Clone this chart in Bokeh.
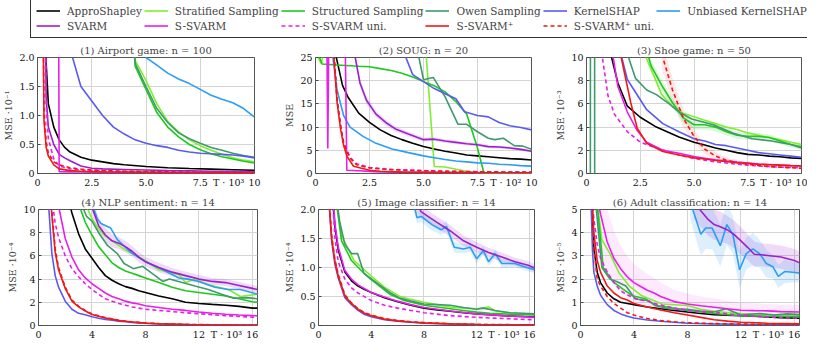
import numpy as np
from bokeh.plotting import figure
from bokeh.layouts import column, row
from bokeh.models import FixedTicker, Legend, LegendItem, Range1d
from bokeh.embed import file_html
from bokeh.resources import INLINE

# ---------------- methods / styles ----------------
METHODS = ["ApproShapley", "Stratified Sampling", "Structured Sampling", "Owen Sampling",
           "KernelSHAP", "Unbiased KernelSHAP", "SVARM", "S-SVARM", "S-SVARM uni.",
           "S-SVARM\u207a", "S-SVARM\u207a uni."]
COLORS = ["#000000", "#80ee30", "#1ec81e", "#3f9a6e", "#5a5af2", "#2a9ef5",
          "#9a22cc", "#ea1eea", "#ea1eea", "#f01818", "#f01818"]
DASHES = ["solid", "solid", "solid", "solid", "solid", "solid",
          "solid", "solid", "4 3", "solid", "4 3"]

# ---------------- panel texts / ticks ----------------
TITLES = ["(1) Airport game: n = 100", "(2) SOUG: n = 20", "(3) Shoe game: n = 50",
          "(4) NLP sentiment: n = 14", "(5) Image classifier: n = 14",
          "(6) Adult classification: n = 14"]
YLABELS = ["MSE \u00b710\u207b\u00b9", "MSE", "MSE \u00b710\u207b\u00b3",
           "MSE \u00b710\u207b\u2074", "MSE \u00b710\u207b\u2074", "MSE \u00b710\u207b\u2075"]
XLABELS = ["T \u00b7 10\u00b3", "T \u00b7 10\u00b2", "T \u00b7 10\u00b3",
           "T \u00b7 10\u00b3", "T \u00b7 10\u00b3", "T \u00b7 10\u00b3"]
XMAX = [10, 10, 10, 16.384, 16.384, 16.384]
YMAX = [2, 25, 10, 10, 2, 5]
XTICKS_A = [0, 2.5, 5, 7.5, 10]
XTICK_LABELS_A = ["0", "2.5", "5.0", "7.5", "10"]
XTICKS_B = [0, 4, 8, 12, 16]
XTICK_LABELS_B = ["0", "4", "8", "12", "16"]
YTICKS = [[0, 0.5, 1, 1.5, 2], [0, 5, 10, 15, 20, 25], [0, 2, 4, 6, 8, 10],
          [0, 2, 4, 6, 8, 10], [0, 0.5, 1, 1.5, 2], [0, 1, 2, 3, 4, 5]]
YTICK_LABELS = [["0", "0.5", "1.0", "1.5", "2.0"], ["0", "5", "10", "15", "20", "25"],
                ["0", "2", "4", "6", "8", "10"], ["0", "2", "4", "6", "8", "10"],
                ["0", "0.5", "1.0", "1.5", "2.0"], ["0", "1", "2", "3", "4", "5"]]

# ---------------- data: (T values, MSE values) per method ----------------
P1 = {
    "ApproShapley": ([0.3, 0.4, 0.5, 0.75, 1.0, 1.25, 1.5, 2, 2.5, 3, 3.5, 4, 5, 6, 7, 8, 9, 10],
                     [4, 1.9, 1.2, 0.8, 0.58, 0.45, 0.37, 0.28, 0.23, 0.2, 0.17, 0.15, 0.12, 0.1, 0.085, 0.075, 0.065, 0.055]),
    "Stratified Sampling": ([4.0, 4.5, 5, 5.5, 6, 6.5, 7, 7.5, 8, 8.5, 9, 9.5, 10],
                            [5, 1.95, 1.6, 1.2, 0.9, 0.72, 0.58, 0.48, 0.4, 0.33, 0.27, 0.23, 0.2]),
    "Structured Sampling": ([4.0, 4.5, 5, 5.5, 6, 6.5, 7, 7.5, 8, 8.5, 9, 9.5, 10],
                            [5, 1.85, 1.45, 1.05, 0.8, 0.63, 0.5, 0.41, 0.34, 0.29, 0.25, 0.21, 0.18]),
    "Owen Sampling": ([4.0, 4.5, 5, 5.5, 6, 6.5, 7, 7.5, 8, 8.5, 9, 9.5, 10],
                      [5, 1.9, 1.5, 1.12, 0.88, 0.7, 0.6, 0.52, 0.45, 0.4, 0.35, 0.31, 0.28]),
    "KernelSHAP": ([1.5, 2, 2.5, 3, 3.5, 4, 4.5, 5, 5.5, 6, 6.5, 7, 7.5, 8, 8.5, 9, 9.5, 10],
                   [2.15, 1.5, 1.25, 1.0, 0.8, 0.68, 0.58, 0.52, 0.48, 0.45, 0.4, 0.37, 0.35, 0.34, 0.33, 0.32, 0.3, 0.27]),
    "Unbiased KernelSHAP": ([4.5, 5, 5.5, 6, 6.5, 7, 7.5, 8, 8.5, 9, 9.5, 10],
                            [2.4, 2.0, 1.87, 1.73, 1.63, 1.55, 1.45, 1.35, 1.28, 1.22, 1.12, 0.97]),
    "SVARM": ([0.3, 0.4, 0.5, 0.75, 1.0, 1.25, 1.5, 2, 2.5, 3, 4, 5, 6, 7, 8, 9, 10],
              [5, 1.3, 0.8, 0.5, 0.33, 0.27, 0.22, 0.13, 0.09, 0.08, 0.07, 0.06, 0.05, 0.045, 0.04, 0.035, 0.03]),
    "S-SVARM": ([0.95, 1.0, 1.5, 2, 3, 4, 5, 6, 7, 8, 9, 10],
                [5, 0.03, 0.028, 0.025, 0.02, 0.018, 0.016, 0.015, 0.013, 0.012, 0.011, 0.01]),
    "S-SVARM uni.": ([0.3, 0.4, 0.5, 0.75, 1.0, 1.5, 2, 3, 4, 5, 6, 7, 8, 9, 10],
                     [5, 1.2, 0.6, 0.25, 0.13, 0.08, 0.06, 0.045, 0.035, 0.03, 0.026, 0.024, 0.022, 0.02, 0.02]),
    "S-SVARM\u207a": ([0.2, 0.3, 0.4, 0.5, 0.75, 1.0, 1.5, 2, 3, 4, 5, 6, 7, 8, 9, 10],
                      [5, 0.9, 0.45, 0.3, 0.15, 0.08, 0.05, 0.04, 0.03, 0.025, 0.02, 0.016, 0.014, 0.012, 0.01, 0.01]),
    "S-SVARM\u207a uni.": ([0.2, 0.3, 0.4, 0.5, 0.75, 1.0, 1.5, 2, 2.5, 3, 4, 5, 6, 7, 8, 9, 10],
                           [5, 1.1, 0.55, 0.35, 0.2, 0.15, 0.1, 0.075, 0.06, 0.05, 0.04, 0.033, 0.028, 0.024, 0.02, 0.018, 0.016]),
}

P2 = {
    "ApproShapley": ([0.94, 1.25, 1.5, 2, 2.5, 3, 3.5, 4, 4.5, 5, 5.5, 6, 6.5, 7, 7.5, 8, 8.5, 9, 9.5, 10],
                     [25.5, 19, 16.5, 13, 11, 9.4, 8.2, 7.3, 6.5, 5.8, 5.3, 4.8, 4.4, 4.0, 3.8, 3.6, 3.4, 3.2, 3.1, 2.9]),
    "Stratified Sampling": ([0.09, 0.27, 0.42, 5.1, 5.5, 6, 6.5, 7, 7.5, 8, 9, 10],
                            [25.2, 23.7, 27, 27, 1.5, 1.4, 0.9, 0.5, 0.15, 0.08, 0.06, 0.05]),
    "Structured Sampling": ([0.15, 0.3, 1, 2, 2.5, 3, 3.5, 4, 4.5, 5, 5.5, 6, 6.5, 7, 7.5, 7.8, 8, 9, 10],
                            [25.5, 23.6, 23.4, 23.1, 23.0, 22.6, 22.2, 21.6, 20.8, 19.8, 18.9, 17.6, 15.5, 12.8, 5.5, 0.05, 0.03, 0.03, 0.03]),
    "Owen Sampling": ([4.7, 5.0, 5.45, 6.0, 6.6, 7.0, 7.5, 8.0, 8.3, 8.7, 9.2, 9.6, 10],
                      [27, 20.2, 20.7, 16.5, 10.6, 10.6, 9.0, 7.6, 7.3, 7.6, 6.0, 5.9, 5.2]),
    "KernelSHAP": ([4.1, 4.5, 5, 5.5, 6, 6.5, 6.9, 7.5, 8, 8.5, 9, 9.5, 10],
                   [26, 21.3, 19.8, 18.3, 17.2, 16.1, 13.3, 12.5, 12.2, 11.0, 10.3, 9.9, 9.4]),
    "Unbiased KernelSHAP": ([0.79, 1.0, 1.3, 1.6, 2.2, 2.8, 3.55, 4.3, 5, 5.5, 6, 6.5, 7, 7.5, 8, 8.5, 9, 9.5, 10],
                            [25.5, 18, 12.5, 10, 8, 6.5, 5.3, 4.5, 3.8, 3.4, 3.0, 2.7, 2.5, 2.3, 2.2, 2.0, 1.9, 1.7, 1.6]),
    "SVARM": ([1.8, 2.06, 2.36, 2.8, 3.25, 3.7, 4.3, 5, 5.5, 6, 6.5, 7, 7.5, 8, 8.5, 9, 9.5, 10],
              [26, 19.5, 15.8, 12.8, 11, 9.6, 8.5, 7.3, 7.4, 7.0, 6.7, 6.4, 6.2, 5.8, 5.7, 5.5, 5.2, 4.8]),
    "S-SVARM": ([0.53, 0.57, 0.61, 1.38, 1.45, 2, 2.5, 3, 4, 5, 6, 7, 8, 9, 10],
                [27, 5.4, 27, 27, 0.7, 0.6, 0.45, 0.35, 0.3, 0.25, 0.2, 0.18, 0.15, 0.13, 0.12]),
    "S-SVARM uni.": ([0.84, 1.0, 1.16, 1.3, 1.6, 1.9, 2.5, 3.4, 4.3, 5, 6, 7, 8, 9, 10],
                     [27, 15.8, 10.2, 6.7, 3.5, 2.1, 1.3, 0.9, 0.72, 0.6, 0.45, 0.38, 0.33, 0.3, 0.28]),
    "S-SVARM\u207a": ([0.82, 1.0, 1.16, 1.3, 1.46, 1.76, 2.5, 3, 3.5, 4, 5, 6, 7, 8, 9, 10],
                      [27, 15.3, 9.6, 6.1, 3.7, 1.55, 0.7, 0.5, 0.4, 0.3, 0.25, 0.2, 0.18, 0.16, 0.15, 0.15]),
    "S-SVARM\u207a uni.": ([0.84, 1.0, 1.16, 1.3, 1.6, 1.9, 2.5, 3.4, 4.3, 5, 6, 7, 8, 9, 10],
                           [27, 16, 10.5, 6.5, 3.3, 1.9, 1.2, 0.85, 0.7, 0.6, 0.5, 0.42, 0.36, 0.32, 0.3]),
}

P3 = {
    "ApproShapley": ([1.1, 1.46, 1.9, 2.5, 3.25, 4.3, 5, 5.5, 6, 6.5, 7, 7.5, 8, 8.5, 9, 9.5, 10],
                     [10.5, 7.8, 5.8, 4.85, 4.0, 3.15, 2.7, 2.45, 2.2, 2.0, 1.8, 1.65, 1.6, 1.5, 1.45, 1.35, 1.3]),
    "Stratified Sampling": ([2.7, 3.0, 3.5, 4, 4.5, 5, 5.5, 6, 6.5, 7, 7.5, 8, 8.5, 9, 9.5, 10],
                            [10.3, 9.0, 6.8, 5.8, 5.2, 4.9, 4.6, 4.3, 4.0, 3.8, 3.5, 3.3, 3.1, 2.9, 2.7, 2.5]),
    "Structured Sampling": ([2.85, 3.0, 3.5, 4, 4.5, 5, 5.5, 6, 6.5, 7, 7.5, 8, 8.5, 9, 9.5, 10],
                            [10.3, 9.3, 7.6, 6.1, 4.8, 4.2, 4.2, 4.0, 3.6, 3.3, 3.2, 3.2, 3.1, 2.8, 2.5, 2.3]),
    "Owen Sampling": ([0.18, 0.19, 0.37, 0.38, None, 1.85, 2.28, 2.8, 3.25, 3.85, 4.3, 4.9, 5.9, 6.8, 7.7, 8.6, 9.5, 10],
                      [0, 40, 40, 0, None, 10.6, 8.2, 7.2, 6.8, 6.0, 5.3, 4.7, 4.2, 3.5, 3.0, 2.8, 2.5, 2.2]),
    "KernelSHAP": ([1.6, 1.9, 2.8, 3.55, 4.3, 5, 5.5, 6, 6.5, 7, 7.5, 8, 8.5, 9, 9.5, 10],
                   [10.3, 8.1, 5.5, 4.3, 3.6, 3.0, 2.8, 2.5, 2.4, 2.2, 2.0, 1.8, 1.7, 1.6, 1.5, 1.4]),
    "Unbiased KernelSHAP": ([], []),
    "SVARM": ([], []),
    "S-SVARM": ([1.2, 1.46, 1.9, 2.36, 2.8, 3.55, 4.3, 5, 5.5, 6, 6.5, 7, 7.5, 8, 8.5, 9, 9.5, 10],
                [10.5, 7.5, 5.3, 3.7, 2.7, 2.0, 1.75, 1.46, 1.32, 1.18, 1.07, 0.98, 0.9, 0.82, 0.77, 0.72, 0.68, 0.65]),
    "S-SVARM uni.": ([0.7, 1.0, 1.3, 1.9, 2.5, 3.25, 4.3, 5, 5.5, 6, 6.5, 7, 7.5, 8, 8.5, 9, 9.5, 10],
                     [10.5, 6.7, 5.1, 3.6, 2.7, 2.2, 1.6, 1.3, 1.15, 1.0, 0.9, 0.8, 0.72, 0.65, 0.6, 0.55, 0.52, 0.5]),
    "S-SVARM\u207a": ([1.58, 2.06, 2.36, 2.8, 3.55, 4.3, 5, 5.5, 6, 6.5, 7, 7.5, 8, 8.5, 9, 9.5, 10],
                      [10.3, 6.1, 3.9, 2.6, 1.9, 1.6, 1.35, 1.25, 1.12, 1.03, 0.93, 0.87, 0.8, 0.76, 0.72, 0.68, 0.65]),
    "S-SVARM\u207a uni.": ([3.5, 4, 4.5, 5, 5.5, 6, 6.5, 7, 7.5, 8, 8.5, 9, 9.5, 10],
                           [10.3, 7.2, 4.8, 3.2, 2.1, 1.5, 1.15, 0.95, 0.8, 0.7, 0.6, 0.55, 0.5, 0.45]),
}

P4 = {
    "ApproShapley": ([2.0, 2.5, 3, 3.5, 4, 4.5, 5, 5.5, 6, 6.5, 7, 7.5, 8, 9, 10, 11, 12, 13, 14, 15, 16, 16.384],
                     [12, 9.7, 7.9, 6.6, 5.8, 5.0, 4.3, 3.9, 3.6, 3.35, 3.2, 3.0, 2.85, 2.55, 2.3, 2.0, 1.9, 1.82, 1.75, 1.65, 1.5, 1.5]),
    "Stratified Sampling": ([3.5, 4, 4.5, 5, 5.5, 6, 6.5, 7, 7.5, 8, 9, 10, 10.5, 11, 11.7, 12.7, 14.2, 15.1, 16.384],
                            [10.5, 9.2, 8.3, 7.7, 7.3, 6.9, 6.5, 6.2, 5.9, 5.6, 4.8, 4.5, 4.4, 3.7, 4.0, 3.5, 3.1, 2.5, 2.7]),
    "Structured Sampling": ([3, 3.5, 4, 4.5, 5, 5.5, 6, 6.5, 7, 7.5, 8, 9, 10, 11, 12, 13, 14, 15, 16, 16.384],
                            [10.5, 8.9, 7.8, 6.8, 6.1, 5.4, 5.0, 4.7, 4.5, 4.3, 4.1, 3.7, 3.3, 3.0, 2.85, 2.7, 2.55, 2.3, 2.05, 2.0]),
    "Owen Sampling": ([3.2, 3.6, 4, 4.5, 5.16, 5.9, 6.4, 7.1, 7.8, 8.6, 9.3, 9.8, 10.75, 11.7, 12.7, 13.7, 14.6, 15.6, 16.384],
                      [10.5, 9.4, 9.0, 8.0, 6.9, 6.2, 5.35, 4.9, 5.1, 4.4, 3.8, 4.0, 3.7, 3.4, 3.1, 2.7, 2.35, 2.4, 2.3]),
    "KernelSHAP": ([0.75, 1.0, 1.25, 1.5, 2, 2.5, 3, 3.5, 4, 4.5, 5, 5.5, 6, 6.5, 7, 7.5, 8, 9, 10, 11, 12, 13, 14, 15, 16.384],
                   [10.5, 6.2, 4.3, 3.3, 2.1, 1.4, 1.05, 0.92, 0.75, 0.62, 0.52, 0.45, 0.38, 0.32, 0.27, 0.23, 0.2, 0.14, 0.1, 0.08, 0.06, 0.05, 0.04, 0.03, 0.03]),
    "Unbiased KernelSHAP": ([4.0, 4.4, 4.67, 5.4, 5.9, 6.9, 8, 9.3, 10.5, 11.2, 12, 13.2, 14.2, 15.1, 16.384],
                            [10.5, 9.2, 8.8, 8.4, 7.4, 6.3, 5.5, 4.8, 4.1, 4.0, 3.8, 3.3, 3.1, 3.1, 2.7]),
    "SVARM": ([4, 4.5, 5, 5.5, 6, 6.5, 7, 7.5, 8, 9, 10, 11, 12, 13, 14, 15, 16, 16.384],
              [10.2, 8.6, 7.8, 7.3, 7.1, 6.8, 6.4, 5.9, 5.5, 5.0, 4.6, 4.3, 4.0, 3.8, 3.7, 3.45, 3.2, 3.1]),
    "S-SVARM": ([1.25, 1.5, 2, 2.5, 3, 3.5, 4, 4.5, 5, 5.5, 6, 6.5, 7, 7.5, 8, 9, 10, 11, 12, 13, 14, 15, 16, 16.384],
                [12, 10.3, 7.5, 5.9, 4.8, 4.1, 3.6, 3.2, 2.8, 2.5, 2.3, 2.1, 1.95, 1.85, 1.7, 1.55, 1.4, 1.3, 1.17, 1.05, 0.97, 0.9, 0.85, 0.84]),
    "S-SVARM uni.": ([1.0, 1.25, 1.5, 2, 2.5, 3, 3.5, 4, 4.5, 5, 5.5, 6, 6.5, 7, 7.5, 8, 9, 10, 11, 12, 13, 14, 15, 16, 16.384],
                     [11, 8.8, 7.6, 6.0, 4.9, 4.2, 3.6, 3.1, 2.7, 2.3, 2.1, 1.9, 1.75, 1.6, 1.5, 1.4, 1.3, 1.2, 1.1, 1.02, 0.93, 0.85, 0.78, 0.72, 0.7]),
    "S-SVARM\u207a": ([0.75, 1.0, 1.25, 1.5, 2, 2.5, 3, 3.5, 4, 4.5, 5, 5.5, 6, 6.5, 7, 7.5, 8, 9, 10, 11, 12, 13, 14, 15, 16.384],
                      [14, 9.5, 6.3, 4.8, 3.2, 2.1, 1.6, 1.25, 0.95, 0.8, 0.65, 0.55, 0.42, 0.36, 0.3, 0.25, 0.2, 0.15, 0.12, 0.09, 0.07, 0.06, 0.05, 0.04, 0.04]),
    "S-SVARM\u207a uni.": ([0.75, 1.0, 1.25, 1.5, 2, 2.5, 3, 3.5, 4, 4.5, 5, 5.5, 6, 6.5, 7, 7.5, 8, 9, 10, 11, 12, 13, 14, 15, 16.384],
                           [14, 9.8, 6.6, 5.0, 3.3, 2.2, 1.65, 1.3, 1.0, 0.83, 0.68, 0.57, 0.45, 0.38, 0.32, 0.27, 0.22, 0.16, 0.13, 0.1, 0.08, 0.065, 0.055, 0.045, 0.04]),
}

P5 = {
    "ApproShapley": ([1.0, 1.25, 1.5, 2, 2.5, 3, 3.5, 4, 5, 6, 7, 8, 9, 10, 11, 12, 13, 14, 15, 16, 16.384],
                     [2.4, 1.7, 1.3, 0.92, 0.77, 0.68, 0.62, 0.57, 0.48, 0.41, 0.35, 0.3, 0.27, 0.245, 0.22, 0.2, 0.185, 0.17, 0.16, 0.15, 0.145]),
    "Stratified Sampling": ([1.25, 1.75, 2.7, 4, 5, 6.1, 7, 8, 9, 10, 11, 12, 12.9, 13.4, 14.5, 15.5, 16.384],
                            [2.3, 1.54, 1.12, 0.85, 0.66, 0.51, 0.45, 0.4, 0.36, 0.32, 0.3, 0.29, 0.32, 0.25, 0.22, 0.2, 0.19]),
    "Structured Sampling": ([1.25, 1.75, 2.5, 3.45, 4, 5.4, 6.5, 8, 9, 10, 11, 12, 13, 14, 15, 16.384],
                            [2.3, 1.46, 1.12, 0.9, 0.79, 0.54, 0.43, 0.35, 0.32, 0.29, 0.26, 0.23, 0.21, 0.2, 0.19, 0.18]),
    "Owen Sampling": ([1.3, 1.6, 2.0, 2.5, 2.97, 3.45, 4.4, 5.4, 6.1, 7, 8, 9, 10, 11, 12, 12.5, 13.4, 14.5, 15.5, 16.384],
                      [2.3, 1.8, 1.4, 1.24, 1.24, 0.9, 0.74, 0.57, 0.48, 0.42, 0.37, 0.36, 0.35, 0.31, 0.28, 0.3, 0.26, 0.22, 0.21, 0.2]),
    "KernelSHAP": ([0.75, 1.0, 1.25, 1.5, 2, 2.5, 3, 3.5, 4, 5, 6, 7, 8, 10, 12, 14, 16.384],
                   [2.3, 1.45, 1.05, 0.82, 0.48, 0.36, 0.26, 0.19, 0.15, 0.1, 0.075, 0.055, 0.04, 0.025, 0.015, 0.012, 0.01]),
    "Unbiased KernelSHAP": ([7.0, 7.47, 7.8, 8.6, 9.3, 9.7, 10.3, 11.0, 11.5, 12.0, 12.5, 12.9, 13.4, 13.9, 14.9, 15.5, 16.384],
                            [2.3, 1.86, 1.88, 1.74, 1.65, 1.71, 1.35, 1.32, 1.35, 1.15, 1.29, 1.1, 1.24, 1.07, 1.07, 1.02, 0.96]),
    "SVARM": ([6.8, 7.8, 8.5, 9.05, 10, 11, 12, 12.9, 13.9, 14.9, 15.9, 16.384],
              [2.3, 1.96, 1.85, 1.77, 1.63, 1.46, 1.35, 1.26, 1.18, 1.1, 1.04, 0.99]),
    "S-SVARM": ([1.0, 1.25, 1.5, 2, 2.5, 3, 4, 5, 6, 7, 8, 9, 10, 12, 14, 16.384],
                [2.5, 1.75, 1.35, 0.95, 0.8, 0.7, 0.57, 0.49, 0.42, 0.36, 0.31, 0.28, 0.25, 0.2, 0.17, 0.14]),
    "S-SVARM uni.": ([1.0, 1.25, 1.5, 2, 2.5, 3, 4, 5, 6, 7, 8, 10, 12, 14, 16.384],
                     [2.4, 1.5, 1.1, 0.8, 0.65, 0.56, 0.43, 0.35, 0.3, 0.26, 0.22, 0.17, 0.14, 0.12, 0.1]),
    "S-SVARM\u207a": ([0.75, 1.0, 1.25, 1.5, 2, 2.5, 3, 3.5, 4, 5, 6, 7, 8, 10, 12, 14, 16.384],
                      [2.3, 1.5, 1.1, 0.85, 0.51, 0.38, 0.28, 0.21, 0.17, 0.11, 0.08, 0.06, 0.045, 0.028, 0.018, 0.013, 0.01]),
    "S-SVARM\u207a uni.": ([0.75, 1.0, 1.25, 1.5, 2, 2.5, 3, 3.5, 4, 5, 6, 7, 8, 10, 12, 14, 16.384],
                           [2.3, 1.55, 1.13, 0.88, 0.53, 0.39, 0.29, 0.22, 0.18, 0.12, 0.085, 0.065, 0.05, 0.03, 0.02, 0.015, 0.012]),
}

P6 = {
    "ApproShapley": ([0.8, 1.0, 1.25, 1.5, 2, 2.5, 3, 3.5, 4, 5, 6, 7, 8, 9, 10, 11, 12, 13, 14, 15, 16.384],
                     [6, 3.3, 2.3, 1.85, 1.4, 1.15, 1.0, 0.95, 0.9, 0.8, 0.72, 0.65, 0.58, 0.52, 0.47, 0.44, 0.42, 0.4, 0.37, 0.34, 0.31]),
    "Stratified Sampling": ([1.2, 1.6, 2.2, 2.9, 3.65, 4.6, 6.1, 8, 9, 10, 11, 12, 13, 14, 15, 16.384],
                            [5.5, 3.7, 3.1, 2.25, 1.7, 1.28, 0.93, 0.86, 0.7, 0.61, 0.56, 0.52, 0.5, 0.47, 0.45, 0.42]),
    "Structured Sampling": ([1.2, 1.7, 2.4, 3.2, 3.9, 4.9, 5.6, 6.6, 8, 9, 10, 11, 12, 14, 16.384],
                            [5.5, 2.5, 1.9, 1.56, 1.28, 1.14, 0.86, 0.79, 0.65, 0.58, 0.52, 0.47, 0.42, 0.4, 0.38]),
    "Owen Sampling": ([1.1, 1.6, 2.2, 2.7, 3.4, 4.1, 5.1, 5.6, 6.6, 8, 9, 10, 10.9, 12, 13.4, 14.5, 15.5, 16.384],
                      [5.5, 2.5, 2.0, 1.9, 1.7, 1.14, 1.07, 0.86, 0.72, 0.7, 0.62, 0.58, 0.72, 0.45, 0.52, 0.45, 0.5, 0.47]),
    "KernelSHAP": ([0.75, 0.9, 1.0, 1.25, 1.5, 2, 2.5, 3, 3.5, 4, 5, 6, 7, 8, 10, 12, 14, 16.384],
                   [6, 3.2, 2.3, 1.7, 1.3, 0.9, 0.65, 0.5, 0.4, 0.32, 0.24, 0.18, 0.14, 0.1, 0.07, 0.05, 0.04, 0.03]),
    "Unbiased KernelSHAP": ([8.2, 8.4, 9.0, 9.37, 9.85, 10.46, 10.95, 11.4, 11.9, 12.4, 12.9, 13.4, 13.9, 14.4, 14.8, 15.3, 16.384],
                            [5.5, 5.0, 3.93, 4.2, 4.2, 3.44, 4.35, 3.93, 2.4, 3.1, 3.3, 3.1, 2.67, 2.53, 2.12, 2.33, 2.26]),
    "SVARM": ([8.5, 9, 9.5, 10, 10.5, 11, 11.5, 12, 12.5, 13, 13.5, 14, 15, 16, 16.384],
              [5.3, 4.95, 4.6, 4.35, 4.25, 4.12, 3.92, 3.65, 3.37, 3.07, 3.05, 3.02, 2.95, 2.8, 2.7]),
    "S-SVARM": ([1.25, 1.5, 2, 2.5, 3, 3.5, 4, 4.5, 5, 5.5, 6, 7, 8, 9, 10, 11, 12, 13, 14, 15, 16.384],
                [5.5, 4.8, 3.6, 2.9, 2.45, 2.1, 1.85, 1.68, 1.52, 1.4, 1.25, 1.03, 0.93, 0.85, 0.79, 0.72, 0.66, 0.64, 0.63, 0.6, 0.58]),
    "S-SVARM uni.": ([0.8, 1.0, 1.25, 1.5, 2, 2.5, 3, 3.5, 4, 4.5, 5, 5.5, 6, 7, 8, 9, 10, 11, 12, 13, 14, 15, 16.384],
                     [6, 4.6, 3.5, 2.9, 2.3, 1.85, 1.5, 1.32, 1.2, 1.1, 1.06, 0.95, 0.88, 0.75, 0.65, 0.6, 0.57, 0.5, 0.45, 0.4, 0.37, 0.34, 0.31]),
    "S-SVARM\u207a": ([0.85, 1.0, 1.25, 1.5, 2, 2.5, 3, 3.5, 4, 5, 6, 7, 8, 9, 10, 11, 12, 14, 16.384],
                      [5.5, 4.0, 2.8, 2.3, 1.7, 1.4, 1.2, 1.1, 0.95, 0.8, 0.67, 0.55, 0.45, 0.35, 0.25, 0.19, 0.14, 0.1, 0.07]),
    "S-SVARM\u207a uni.": ([0.85, 1.0, 1.25, 1.5, 2, 2.5, 3, 3.5, 4, 5, 6, 7, 8, 10, 12, 14, 16.384],
                           [5.5, 3.3, 2.0, 1.7, 1.25, 0.95, 0.75, 0.55, 0.45, 0.3, 0.21, 0.16, 0.12, 0.08, 0.06, 0.05, 0.04]),
}

PANEL_DATA = [P1, P2, P3, P4, P5, P6]

# confidence-band half widths: (panel index, method, half widths at that method's T values)
BANDS = [
    (1, "SVARM", [1.0, 0.9, 0.8, 0.7, 0.6, 0.55, 0.5, 0.45, 0.4, 0.4, 0.4, 0.35, 0.35, 0.35, 0.3, 0.3, 0.3, 0.3]),
    (2, "Structured Sampling", [0.5, 0.5, 0.45, 0.4, 0.4, 0.4, 0.4, 0.35, 0.3, 0.3, 0.3, 0.3, 0.25, 0.25, 0.25, 0.25]),
    (2, "S-SVARM\u207a uni.", [1.2, 1.0, 0.8, 0.6, 0.45, 0.35, 0.25, 0.2, 0.15, 0.12, 0.1, 0.08, 0.07, 0.06]),
    (3, "SVARM", [0.8, 0.7, 0.6, 0.55, 0.5, 0.5, 0.45, 0.45, 0.4, 0.4, 0.35, 0.35, 0.35, 0.3, 0.3, 0.3, 0.3, 0.3]),
    (4, "SVARM", [0.12, 0.12, 0.1, 0.1, 0.1, 0.09, 0.09, 0.08, 0.08, 0.07, 0.07, 0.07]),
    (4, "Unbiased KernelSHAP", [0.12, 0.1, 0.1, 0.1, 0.09, 0.09, 0.09, 0.08, 0.08, 0.08, 0.08, 0.07, 0.07, 0.07, 0.06, 0.06, 0.06]),
    (5, "SVARM", [0.7, 0.7, 0.7, 0.65, 0.65, 0.6, 0.6, 0.6, 0.55, 0.55, 0.5, 0.5, 0.5, 0.5, 0.5]),
    (5, "Unbiased KernelSHAP", [0.8, 0.8, 0.9, 0.9, 0.9, 0.9, 0.9, 0.8, 0.8, 0.7, 0.7, 0.6, 0.6, 0.5, 0.5, 0.5, 0.4]),
    (5, "S-SVARM", [1.5, 1.5, 1.4, 1.2, 1.0, 0.9, 0.8, 0.75, 0.7, 0.65, 0.6, 0.5, 0.45, 0.4, 0.38, 0.35, 0.33, 0.32, 0.3, 0.3, 0.3]),
]
BAND_ALPHA = {"S-SVARM": 0.09, "S-SVARM\u207a uni.": 0.1}

# ---------------- layout ----------------
FONT = "DejaVu Serif"
LEGEND_H = 38
ROW_H = [152, 152]
ROW_TOP = [19, 19]
ROW_BOTTOM = [17, 17]
COL_W = [281, 271, 255]
LEFT = [[35, 31, 30], [38, 34, 28]]
RIGHT = [[27, 21, 6], [24, 18, 8]]
XLABEL_GAP = [26, 31]  # px between frame right edge and centre of the T-label, per row


def make_panel(i):
    r, c = divmod(i, 3)
    w, h = COL_W[c], ROW_H[r]
    p = figure(width=w, height=h, x_range=Range1d(0, XMAX[i]), y_range=Range1d(0, YMAX[i]),
               output_backend="svg", toolbar_location=None,
               min_border_left=LEFT[r][c], min_border_right=RIGHT[r][c],
               min_border_top=ROW_TOP[r], min_border_bottom=ROW_BOTTOM[r])
    p.title.text = TITLES[i]
    p.title.text_font = FONT
    p.title.text_font_size = "10px"
    p.title.text_font_style = "normal"
    p.title.align = "center"
    p.title.standoff = 3
    p.background_fill_color = "white"
    p.outline_line_color = "#555555"
    p.outline_line_width = 1
    p.outline_line_alpha = 1

    xt, xl = (XTICKS_A, XTICK_LABELS_A) if r == 0 else (XTICKS_B, XTICK_LABELS_B)
    fw = w - LEFT[r][c] - RIGHT[r][c]
    xlab_pos = round(XMAX[i] * (1 - XLABEL_GAP[r] / fw), 2)
    p.xaxis.ticker = FixedTicker(ticks=list(xt) + [xlab_pos])
    overrides = {t: s for t, s in zip(xt, xl)}
    overrides[xlab_pos] = XLABELS[i]
    p.xaxis.major_label_overrides = overrides
    p.xgrid.ticker = FixedTicker(ticks=list(xt))
    p.yaxis.ticker = FixedTicker(ticks=YTICKS[i])
    p.yaxis.major_label_overrides = {t: s for t, s in zip(YTICKS[i], YTICK_LABELS[i])}
    for ax in (p.xaxis[0], p.yaxis[0]):
        ax.axis_line_color = None
        ax.major_tick_out = 0
        ax.major_tick_line_color = "#444444"
        ax.minor_tick_line_color = None
        ax.major_label_text_font = FONT
        ax.major_label_text_font_size = "9.5px"
        ax.major_label_text_color = "#111111"
        ax.major_label_standoff = 3
    p.xaxis.major_tick_in = 0
    p.yaxis.major_tick_in = 3
    p.yaxis.axis_label = YLABELS[i]
    p.yaxis.axis_label_text_font = FONT
    p.yaxis.axis_label_text_font_size = "9.5px"
    p.yaxis.axis_label_text_font_style = "normal"
    p.yaxis.axis_label_standoff = 2
    p.grid.grid_line_color = "#d4d4d4"
    p.grid.grid_line_width = 1

    data = PANEL_DATA[i]
    for (pi, name, half) in BANDS:
        if pi != i:
            continue
        xs = np.array(data[name][0], dtype=float)
        ys = np.array(data[name][1], dtype=float)
        hw = np.array(half, dtype=float)
        col = COLORS[METHODS.index(name)]
        p.varea(x=xs, y1=ys - hw, y2=ys + hw, fill_color=col,
                fill_alpha=BAND_ALPHA.get(name, 0.16))

    for name, col, dash in zip(METHODS, COLORS, DASHES):
        xs, ys = data[name]
        if len(xs) == 0:
            continue
        p.line(x=np.array(xs, dtype=float), y=np.array(ys, dtype=float),
               line_color=col, line_width=1.6, line_dash=dash)
    return p


panels = [make_panel(i) for i in range(6)]

# ---------------- legend strip ----------------
lf = figure(width=sum(COL_W), height=LEGEND_H, x_range=Range1d(0, 1), y_range=Range1d(0, 1),
            output_backend="svg", toolbar_location=None, min_border=0,
            x_axis_location=None, y_axis_location=None)
lf.grid.visible = False
lf.outline_line_color = None
items = []
for name, col, dash in zip(METHODS, COLORS, DASHES):
    rr = lf.line(x=[np.nan, np.nan], y=[np.nan, np.nan], line_color=col, line_width=1.6,
                 line_dash=dash)
    items.append(LegendItem(label=name, renderers=[rr]))
leg = Legend(items=items, ncols=6, orientation="horizontal", location=(30, 0),
             label_text_font=FONT, label_text_font_size="10.5px",
             label_height=13, glyph_height=13, glyph_width=24, label_standoff=7,
             label_width=60, spacing=2, padding=5, margin=0,
             border_line_color="#333333", border_line_width=1, border_line_alpha=1,
             background_fill_alpha=1)
lf.add_layout(leg, "center")

layout = column(lf, row(*panels[:3]), row(*panels[3:]))
open("out.html", "w").write(file_html(layout, INLINE))
